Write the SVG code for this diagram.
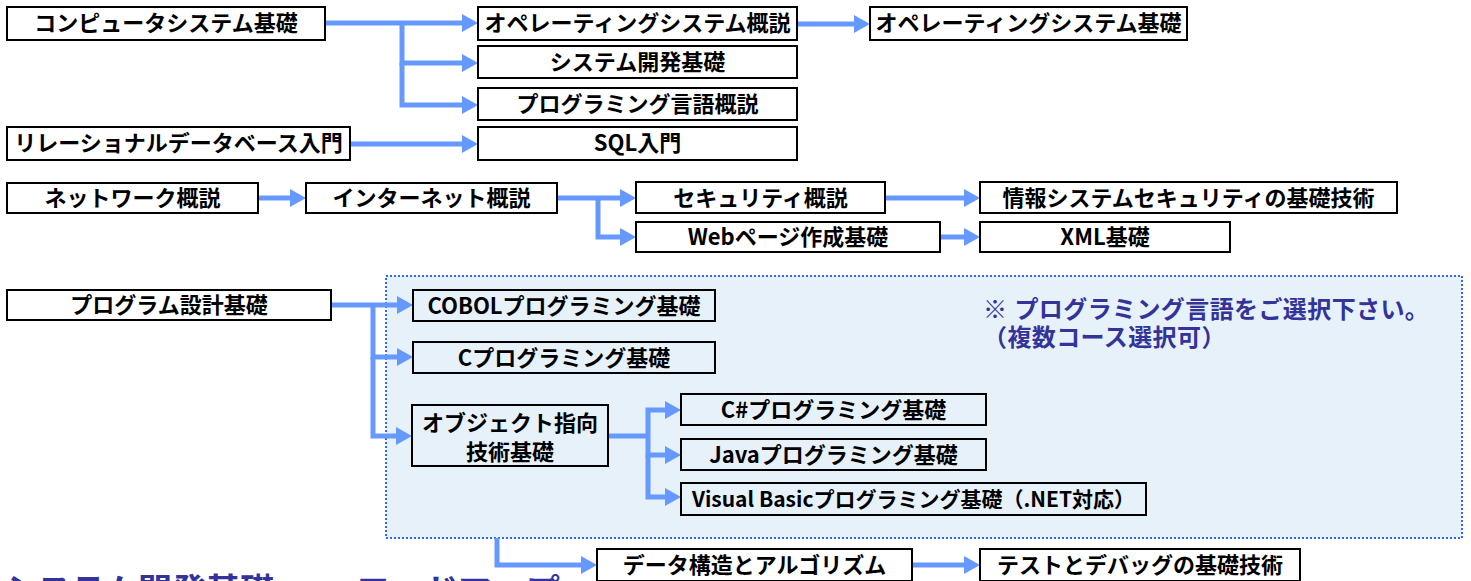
<svg xmlns="http://www.w3.org/2000/svg" width="1471" height="581" viewBox="0 0 1471 581">
<defs>
<style>
.n rect{fill:#fff;stroke:#000;stroke-width:2}
.in rect{fill:none}
.n text{font-family:"Noto Sans CJK JP","Liberation Sans",sans-serif;font-weight:bold;font-size:22px;fill:#000;text-anchor:middle}
.c path{fill:none;stroke:#6699ff;stroke-width:5;marker-end:url(#ah)}
.c path.nm{marker-end:none}
.note{font-family:"Liberation Sans","Noto Sans CJK JP",sans-serif;font-weight:bold;fill:#333399}
.ttl{font-family:"Noto Sans CJK JP","Liberation Sans",sans-serif;font-weight:bold;fill:#333399}
</style>
<marker id="ah" viewBox="0 0 16 18" refX="2" refY="9" markerWidth="16" markerHeight="18" markerUnits="userSpaceOnUse" orient="auto">
<path d="M0,0 L16,9 L0,18 z" fill="#6699ff"/>
</marker>
</defs>

<g id="select-area">
<rect x="386" y="276" width="1076" height="262" fill="#e7f1f9" stroke="#3366ff" stroke-width="2" stroke-dasharray="2,2"/>
<text class="note" font-size="24" letter-spacing="0.4"><tspan x="983" y="318">※ プログラミング言語をご選択下さい。</tspan><tspan x="983" y="346">（複数コース選択可）</tspan></text>
</g>

<g id="connectors" class="c">
<path d="M325,23 H464"/>
<path d="M402,23 V63 H464"/>
<path d="M402,63 V105 H464"/>
<path d="M797,24 H856"/>
<path d="M350,144 H464"/>
<path d="M258,198 H292"/>
<path d="M557,198 H622"/>
<path d="M598,198 V237 H622"/>
<path d="M885,198 H966"/>
<path d="M940,237 H966"/>
<path d="M331,305 H399"/>
<path d="M373,305 V357 H399"/>
<path d="M373,357 V436 H398"/>
<path class="nm" d="M608,436 H648"/>
<path d="M648,436 V410 H667"/>
<path d="M648,436 V455 H667"/>
<path d="M648,455 V497 H667"/>
<path d="M497,538 V565 H583"/>
<path d="M912,565 H966"/>
</g>

<g id="n1" class="n"><rect x="7" y="7" width="318" height="33"/><text x="166" y="31">コンピュータシステム基礎</text></g>
<g id="n2" class="n"><rect x="478" y="7" width="319" height="33"/><text x="637.5" y="31">オペレーティングシステム概説</text></g>
<g id="n3" class="n"><rect x="870" y="7" width="317" height="33"/><text x="1028.5" y="31">オペレーティングシステム基礎</text></g>
<g id="n4" class="n"><rect x="478" y="46" width="319" height="32"/><text x="637.5" y="70">システム開発基礎</text></g>
<g id="n5" class="n"><rect x="478" y="88" width="319" height="32"/><text x="637.5" y="112">プログラミング言語概説</text></g>
<g id="n6" class="n"><rect x="7" y="127" width="343" height="33"/><text x="178.5" y="151">リレーショナルデータベース入門</text></g>
<g id="n7" class="n"><rect x="478" y="127" width="319" height="33"/><text x="637.5" y="151">SQL入門</text></g>
<g id="n8" class="n"><rect x="7" y="183" width="251" height="30"/><text x="132.5" y="206">ネットワーク概説</text></g>
<g id="n9" class="n"><rect x="306" y="183" width="251" height="30"/><text x="431.5" y="206">インターネット概説</text></g>
<g id="n10" class="n"><rect x="636" y="182" width="249" height="31"/><text x="760.5" y="206">セキュリティ概説</text></g>
<g id="n11" class="n"><rect x="980" y="182" width="417" height="31"/><text x="1188.5" y="206">情報システムセキュリティの基礎技術</text></g>
<g id="n12" class="n"><rect x="636" y="222" width="304" height="30"/><text x="788" y="245">Webページ作成基礎</text></g>
<g id="n13" class="n"><rect x="980" y="222" width="250" height="30"/><text x="1105" y="245">XML基礎</text></g>
<g id="n14" class="n"><rect x="7" y="290" width="324" height="30"/><text x="169" y="313">プログラム設計基礎</text></g>
<g id="n15" class="n in"><rect x="413" y="290" width="302" height="31"/><text x="564" y="314">COBOLプログラミング基礎</text></g>
<g id="n16" class="n in"><rect x="413" y="342" width="302" height="31"/><text x="564" y="366">Cプログラミング基礎</text></g>
<g id="n17" class="n in"><rect x="412" y="405" width="196" height="61"/><text x="510" y="431">オブジェクト指向</text><text x="510" y="460">技術基礎</text></g>
<g id="n18" class="n in"><rect x="681" y="394" width="305" height="31"/><text x="833.5" y="418">C#プログラミング基礎</text></g>
<g id="n19" class="n in"><rect x="681" y="439" width="305" height="31"/><text x="833.5" y="463">Javaプログラミング基礎</text></g>
<g id="n20" class="n in"><rect x="681" y="483" width="465" height="32"/><text x="913.5" y="507" style="font-size:21px">Visual Basicプログラミング基礎（.NET対応）</text></g>
<g id="n21" class="n"><rect x="597" y="549" width="315" height="32"/><text x="754.5" y="573">データ構造とアルゴリズム</text></g>
<g id="n22" class="n"><rect x="980" y="549" width="320" height="32"/><text x="1140" y="573">テストとデバッグの基礎技術</text></g>

<g id="title">
<text class="ttl" font-size="34" y="603"><tspan x="3">システム開発基礎</tspan><tspan x="356">ロードマップ</tspan></text>
</g>
</svg>
